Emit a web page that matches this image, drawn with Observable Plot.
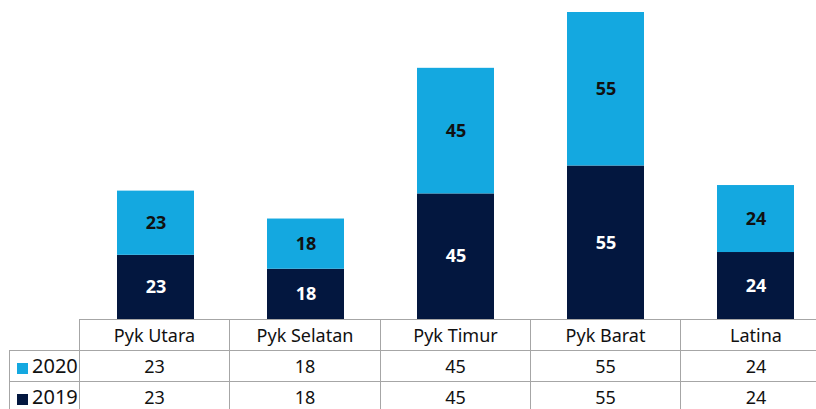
<!DOCTYPE html>
<html>
<head>
<meta charset="utf-8">
<script src="https://cdn.jsdelivr.net/npm/d3@7"></script>
<script src="https://cdn.jsdelivr.net/npm/@observablehq/plot@0.6"></script>
<style>
  html, body { margin: 0; padding: 0; background: #fff; overflow: hidden; width: 816px; height: 409px; }
  #wrap { position: relative; width: 816px; height: 409px; overflow: hidden; }
  #chart { position: absolute; left: 0; top: 0; }
  table.dt { position: absolute; left: 9px; top: 319px; border-collapse: collapse; table-layout: fixed;
    font-family: "Noto Sans", sans-serif; font-size: 18px; color: #111; }
  table.dt td { border: 1px solid #a6a6a6; padding: 0; text-align: center; height: 30px; line-height: 30px; overflow: hidden; white-space: nowrap; }
  table.dt td.empty { border-left: none; border-top: none; border-bottom: 1px solid #a6a6a6; }
  table.dt td.leg { text-align: left; padding-left: 7px; font-size: 20px; }
  .sw { display: inline-block; width: 11px; height: 11px; margin-right: 4px; vertical-align: -1px; }
</style>
</head>
<body>
<div id="wrap">
  <div id="chart"></div>
  <table class="dt" id="tbl"></table>
</div>
<script>
const categories = ["Pyk Utara", "Pyk Selatan", "Pyk Timur", "Pyk Barat", "Latina"];
const years = ["2019", "2020"];
const values2019 = [23, 18, 45, 55, 24];
const values2020 = [23, 18, 45, 55, 24];
const colors = {"2019": "#03173f", "2020": "#14a8e0"};
const labelColors = {"2019": "#ffffff", "2020": "#111111"};

const data = [];
categories.forEach((c, i) => data.push({cat: c, year: "2019", value: values2019[i]}));
categories.forEach((c, i) => data.push({cat: c, year: "2020", value: values2020[i]}));

const plot = Plot.plot({
  width: 816,
  height: 320,
  marginTop: 12,
  marginBottom: 1,
  marginLeft: 0,
  marginRight: 0,
  style: {fontFamily: "Noto Sans, sans-serif", background: "transparent"},
  x: {domain: categories, range: [79, 831], paddingInner: 0.49, paddingOuter: 0.245, axis: null},
  y: {domain: [0, 110], axis: null},
  color: {domain: years, range: years.map(y => colors[y])},
  marks: [
    Plot.barY(data, {x: "cat", y: "value", z: "year", fill: "year", order: years}),
    Plot.text(data, Plot.stackY({x: "cat", y: "value", z: "year", order: years, text: d => String(d.value),
      fill: d => labelColors[d.year], fontSize: 18, fontWeight: "bold"}))
  ]
});
document.getElementById("chart").appendChild(plot);

// data table below the chart
const tbl = document.getElementById("tbl");
const colW = [70, 150, 151, 150, 150, 151];
const cg = document.createElement("colgroup");
colW.forEach(w => { const col = document.createElement("col"); col.style.width = w + "px"; cg.appendChild(col); });
tbl.appendChild(cg);
tbl.style.width = colW.reduce((a, b) => a + b, 0) + "px";
const hr = document.createElement("tr");
const e = document.createElement("td"); e.className = "empty"; hr.appendChild(e);
categories.forEach(c => { const td = document.createElement("td"); td.textContent = c; hr.appendChild(td); });
tbl.appendChild(hr);
[["2020", values2020], ["2019", values2019]].forEach(([yr, vals]) => {
  const tr = document.createElement("tr");
  const lg = document.createElement("td"); lg.className = "leg";
  const sw = document.createElement("span"); sw.className = "sw"; sw.style.background = colors[yr];
  lg.appendChild(sw); lg.appendChild(document.createTextNode(yr));
  tr.appendChild(lg);
  vals.forEach(v => { const td = document.createElement("td"); td.textContent = v; tr.appendChild(td); });
  tbl.appendChild(tr);
});
</script>
</body>
</html>
